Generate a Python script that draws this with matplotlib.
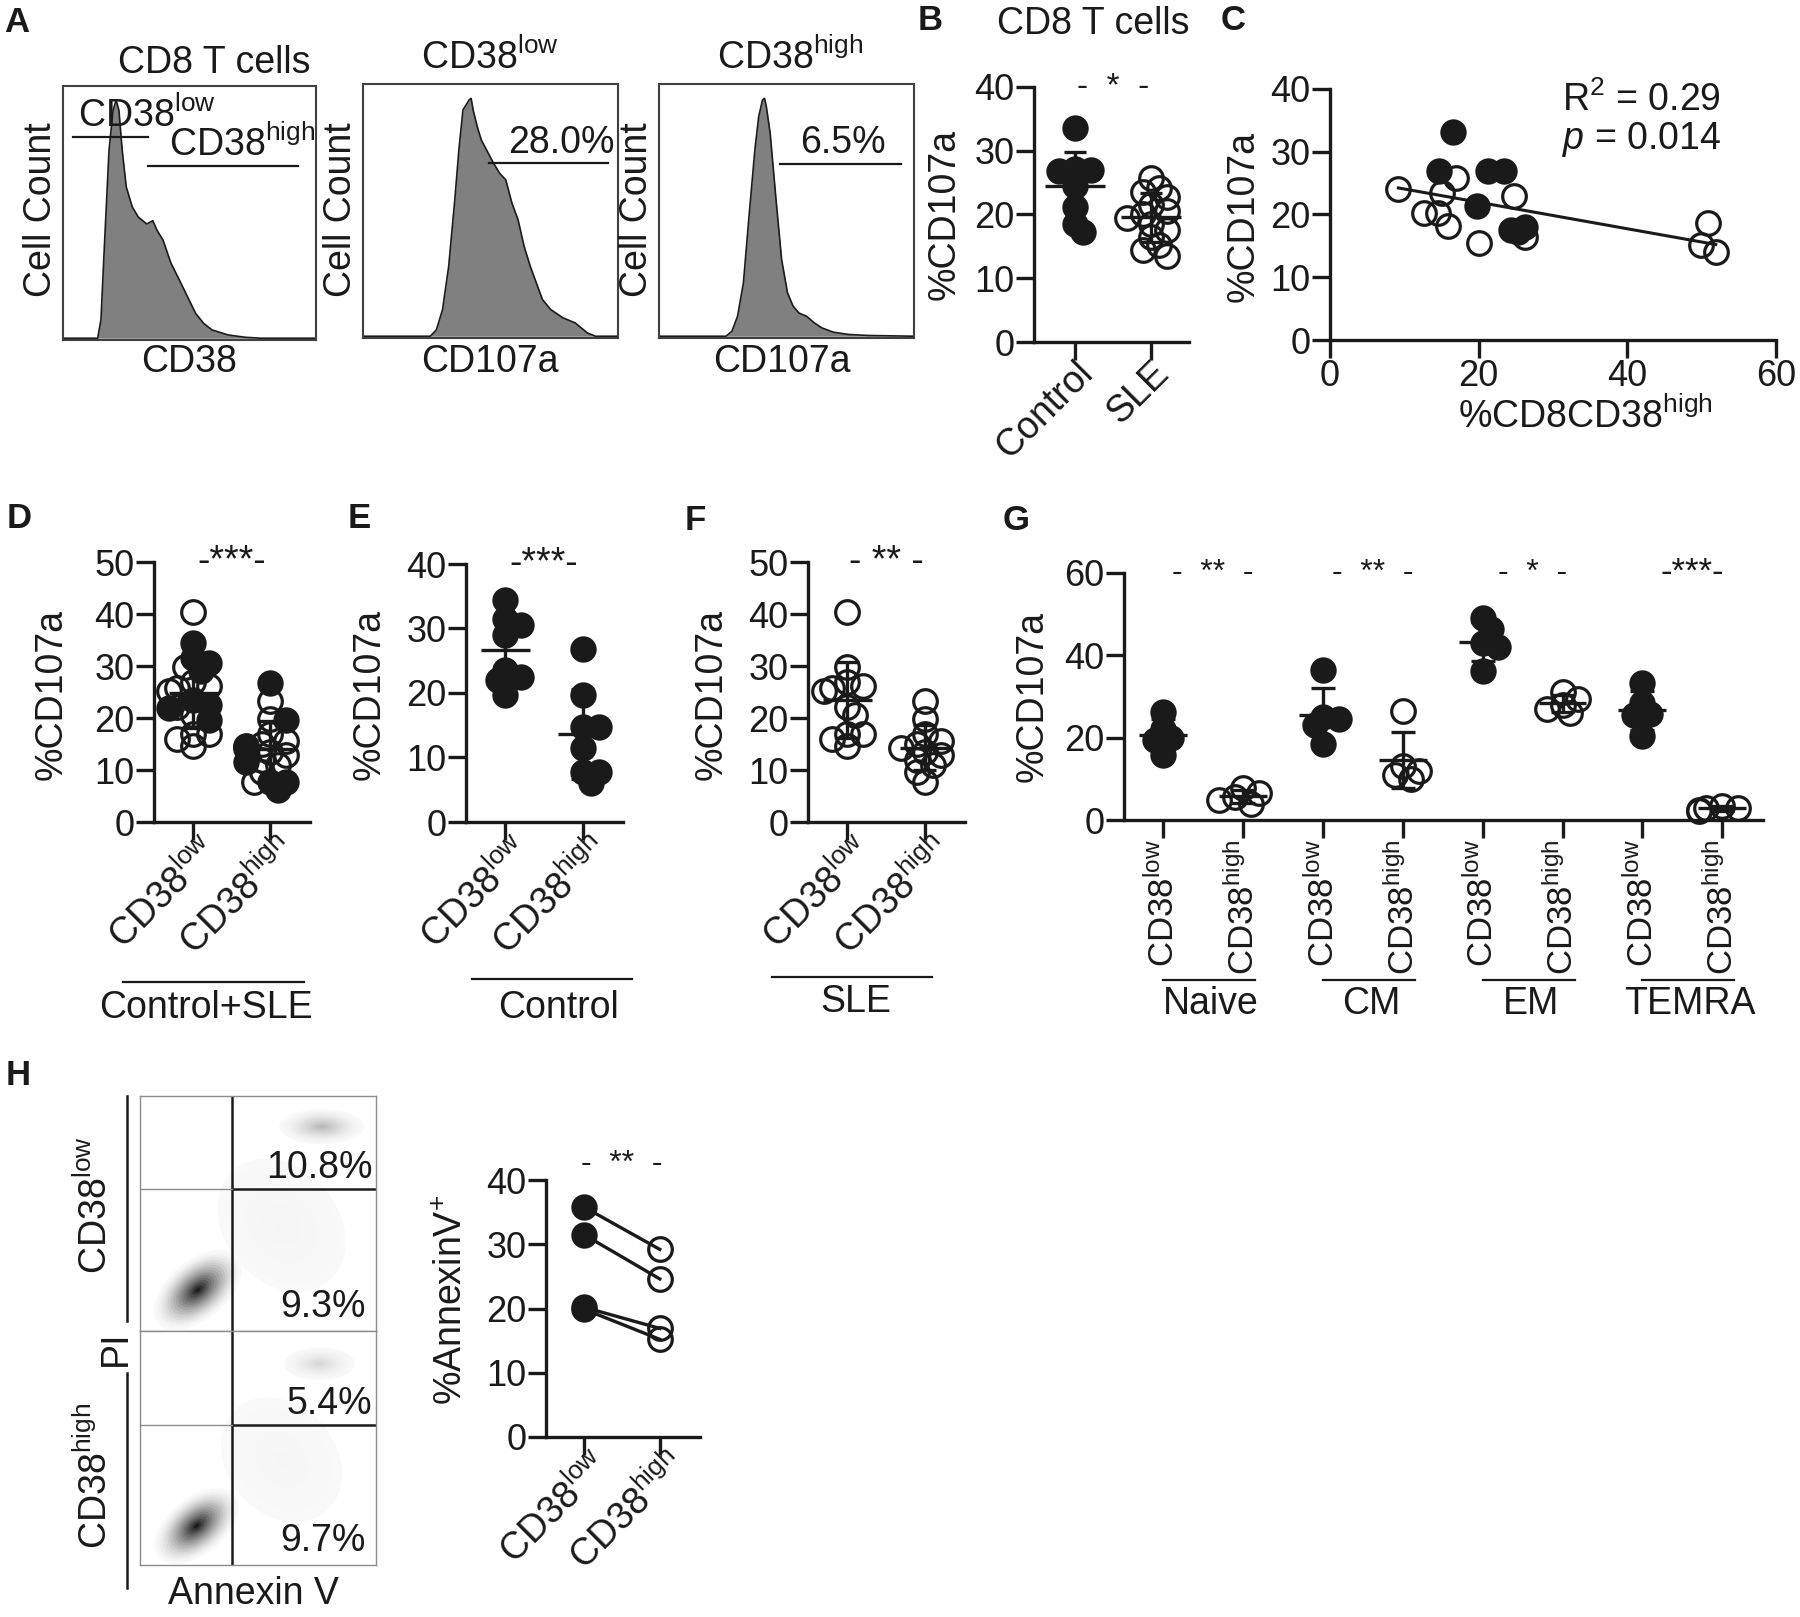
import numpy as np
import matplotlib
matplotlib.use("Agg")
import matplotlib.pyplot as plt
import matplotlib.transforms as mtransforms
from matplotlib.patches import Ellipse
from matplotlib.lines import Line2D

plt.rcParams['font.family'] = ['Liberation Sans', 'DejaVu Sans']
plt.rcParams['mathtext.fontset'] = 'custom'
plt.rcParams['mathtext.rm'] = 'Liberation Sans'
plt.rcParams['mathtext.it'] = 'Liberation Sans:italic'
plt.rcParams['mathtext.default'] = 'regular'

W, H = 1800, 1617
INK = '#1a1a1a'
LOW = 'CD38$^{low}$'
HIGH = 'CD38$^{high}$'
FS = 27     # labels
TFS = 26    # tick labels

# ---------------- data ----------------
# A: histogram outlines (channel 0-100, relative count)
cd38_x = [0, 13.7, 15.0, 16.6, 18.2, 19.8, 21.0, 22.1, 23.4, 25.0, 27.4, 29.8, 33.1, 35.5, 37.1,
          39.5, 42.7, 46.0, 49.2, 52.4, 55.6, 58.9, 65.3, 71.8, 78.2, 100]
cd38_y = [0, 0, 7.3, 41.6, 74.6, 90.4, 94.4, 90.4, 74.6, 60.0, 52.0, 48.0, 45.3, 46.6, 42.9,
          39.0, 29.7, 23.1, 16.5, 9.9, 5.9, 3.3, 1.3, 0.4, 0, 0]
cd107a_low_x = [0, 26.4, 28.8, 31.2, 33.6, 36.0, 37.6, 39.2, 40.8, 41.6, 42.4, 43.2, 44.8, 46.4, 48.8,
                51.2, 53.6, 56.0, 58.4, 60.8, 63.2, 65.6, 68.0, 70.4, 73.6, 78.4, 83.2, 88.0, 91.2, 100]
cd107a_low_y = [0, 0, 2.6, 10.6, 27.7, 54.1, 73.9, 89.7, 92.3, 93.7, 94.3, 89.7, 83.1, 77.8, 73.2,
                68.6, 64.6, 62.0, 52.8, 46.2, 35.6, 27.7, 21.1, 14.5, 10.6, 7.3, 5.3, 1.3, 0, 0]
cd107a_high_x = [0, 26.3, 28.6, 30.8, 33.1, 35.3, 37.6, 39.1, 40.6, 41.4, 42.1, 43.6, 45.9, 48.1,
                 50.4, 52.6, 54.9, 57.9, 60.9, 63.9, 68.4, 74.4, 82.0, 100]
cd107a_high_y = [0, 0, 2.0, 7.9, 21.1, 47.5, 73.9, 87.1, 93.7, 94.3, 91.0, 80.5, 54.1, 30.3,
                 17.2, 11.9, 9.2, 7.9, 5.3, 3.3, 1.6, 0.7, 0.3, 0]
pct_cd107a = ['28.0%', '6.5%']

# B: %CD107a in CD8 T cells
b_groups = ['Control', 'SLE']
b_control = [33.5, 27.2, 27.0, 26.8, 24.5, 21.2, 18.5, 17.2]
b_sle = [25.8, 24.2, 23.5, 22.8, 21.5, 20.5, 20.0, 19.5, 18.5, 17.5, 16.5, 15.2, 14.5, 13.5]

# C: %CD8CD38high vs %CD107a
c_ctrl_x = [16.5, 14.6, 21.2, 23.4, 19.8, 24.3, 26.2, 25.3]
c_ctrl_y = [33.1, 26.9, 26.9, 26.9, 21.4, 17.6, 18.0, 17.2]
c_sle_x = [9.2, 17.0, 15.1, 12.6, 14.5, 15.9, 20.1, 24.8, 26.2, 50.8, 49.9, 51.9]
c_sle_y = [24.0, 25.8, 23.4, 20.2, 20.2, 18.1, 15.4, 22.9, 16.4, 18.6, 15.2, 14.1]

# E (controls, filled) and F (SLE, open); D pools both
e_low = [34.4, 31.5, 30.5, 29.0, 23.5, 22.5, 22.0, 19.7]
e_high = [26.8, 19.7, 14.7, 14.7, 11.5, 7.7, 7.7, 6.1]
f_low = [40.4, 29.8, 27.0, 26.2, 25.8, 25.2, 22.2, 20.5, 16.9, 16.9, 15.9, 14.6]
f_high = [23.2, 19.9, 17.0, 15.6, 15.0, 14.2, 13.5, 12.9, 12.0, 11.0, 9.6, 7.6]

# G: subsets
g_subsets = ['Naive', 'CM', 'EM', 'TEMRA']
g_low = [[20.0, 26.2, 22.0, 15.8, 19.5],
         [36.5, 25.0, 24.5, 23.0, 18.5],
         [49.0, 46.4, 43.0, 42.0, 36.3],
         [33.4, 28.3, 25.8, 25.5, 20.4]]
g_high = [[7.8, 6.5, 5.5, 4.8, 4.0],
          [26.5, 13.0, 12.0, 11.0, 10.0],
          [31.0, 29.5, 28.0, 27.0, 26.0],
          [3.5, 3.0, 2.8, 2.5, 2.2]]
g_sig = ['-  **  -', '-  **  -', '-  *  -', '-***-']

# H: apoptosis
h_flow_pct = [['10.8%', '9.3%'], ['5.4%', '9.7%']]
h_low = [35.8, 31.5, 20.2, 19.9]
h_high = [29.2, 24.6, 16.9, 15.2]
# flow clusters: centre x, centre y, width, height, angle, darkest grey
flow_low_clusters = [(60, 45, 48, 62, 40, 0.96), (77, 87, 36, 15, 0, 0.72), (24.5, 17.5, 44, 25, 40, 0.12)]
flow_high_clusters = [(60, 45, 46, 58, 40, 0.965), (76, 86, 30, 14, 0, 0.84), (24.0, 16.7, 42, 24, 40, 0.12)]

# ---------------- helpers ----------------
fig = plt.figure(figsize=(W / 100, H / 100), dpi=100)
MS = 19
DIAM = MS * 100 / 72


def px_axes(x0, y0, x1, y1):
    return fig.add_axes([x0 / W, 1 - y1 / H, (x1 - x0) / W, (y1 - y0) / H])


def ftext(x, y, s, **kw):
    kw.setdefault('fontsize', FS)
    kw.setdefault('ha', 'center')
    kw.setdefault('va', 'center')
    return fig.text(x / W, 1 - y / H, s, color=INK, **kw)


def fline(x0, y0, x1, y1, lw=1.6, color=INK):
    fig.add_artist(Line2D([x0 / W, x1 / W], [1 - y0 / H, 1 - y1 / H], color=color, lw=lw))


def dot_axes(rect, ymax, ystep, xlim):
    ax = px_axes(*rect)
    ax.set_xlim(*xlim)
    ax.set_ylim(0, ymax)
    for s in ['top', 'right']:
        ax.spines[s].set_visible(False)
    for s in ['left', 'bottom']:
        ax.spines[s].set_linewidth(2.4)
        ax.spines[s].set_color(INK)
    ax.set_yticks(np.arange(0, ymax + 1, ystep))
    ax.tick_params(length=13, width=2.4, labelsize=TFS, pad=1, color=INK, labelcolor=INK)
    ax.patch.set_alpha(0)
    return ax


def swarm(ax, vals, pos):
    # spread points sideways in pixel space; they may overlap a good deal
    pts = []
    xs = np.zeros(len(vals))
    inv = ax.transData.inverted()
    for i in np.argsort(vals)[::-1]:
        cx, cy = ax.transData.transform((pos, vals[i]))
        px = cx
        for k in [0, 1, -1, 2, -2, 3, -3]:
            px = cx + k * DIAM * 0.3
            if all((px - qx) ** 2 + (cy - qy) ** 2 >= (DIAM * 0.42) ** 2 for qx, qy in pts):
                break
        pts.append((px, cy))
        xs[i] = inv.transform((px, cy))[0]
    return xs


def dots(ax, vals, xs, filled):
    if filled:
        ax.plot(xs, vals, 'o', color=INK, ms=MS, mew=0, zorder=2, clip_on=False)
    else:
        ax.plot(xs, vals, 'o', mfc='none', mec=INK, ms=MS - 2, mew=2.3, zorder=2, clip_on=False)


def mean_sd(ax, vals, pos, mw=0.32, cw=0.15):
    m, s = np.mean(vals), np.std(vals, ddof=1)
    kw = dict(color=INK, lw=2.4, zorder=3, clip_on=False, solid_capstyle='butt')
    ax.plot([pos - mw, pos + mw], [m, m], **kw)
    ax.plot([pos, pos], [max(m - s, 0), m + s], **kw)
    ax.plot([pos - cw, pos + cw], [m + s, m + s], **kw)
    if m - s > 0:
        ax.plot([pos - cw, pos + cw], [m - s, m - s], **kw)


def group(ax, filled_vals, open_vals, pos, mw=0.32):
    allv = list(filled_vals) + list(open_vals)
    xs = swarm(ax, allv, pos)
    nf = len(filled_vals)
    if nf:
        dots(ax, allv[:nf], xs[:nf], True)
    if len(open_vals):
        dots(ax, allv[nf:], xs[nf:], False)
    mean_sd(ax, allv, pos, mw=mw)


def rot_labels(ax, labels, dx=20, dy=-4):
    ax.set_xticks(range(len(labels)))
    ax.set_xticklabels(labels, rotation=45, ha='right', va='center', rotation_mode='anchor', fontsize=FS)
    shift = mtransforms.ScaledTranslation(dx / 100, dy / 100, fig.dpi_scale_trans)
    for lab in ax.get_xticklabels():
        lab.set_transform(lab.get_transform() + shift)


def sig(ax, x, y, s, fs=24):
    ax.text(x, y, s, ha='center', va='center', fontsize=fs, color=INK, clip_on=False)


# ---------------- A: histograms ----------------
def hist_axes(rect, xs, ys):
    ax = px_axes(*rect)
    ax.fill_between(xs, ys, 0, color='#808080', lw=0)
    ax.plot(xs, ys, color=INK, lw=1.2)
    ax.set_xlim(0, 100)
    ax.set_ylim(-0.7, 100)
    ax.set_xticks([])
    ax.set_yticks([])
    for s in ax.spines.values():
        s.set_linewidth(1.5)
        s.set_color('0.25')
    return ax


a1 = hist_axes((63, 86, 316, 340), cd38_x, cd38_y)
a1.plot([4, 33.4], [79.7, 79.7], color=INK, lw=1.6)
a1.plot([33.4, 92.7], [68.3, 68.3], color=INK, lw=1.6)
a1.text(6, 80.5, LOW, fontsize=FS, va='bottom', ha='left', color=INK, clip_on=False)
a1.text(42, 69, HIGH, fontsize=FS, va='bottom', ha='left', color=INK, clip_on=False)
a2 = hist_axes((363, 84, 618, 338), cd107a_low_x, cd107a_low_y)
a2.plot([49.6, 96], [68.6, 68.6], color=INK, lw=1.6)
a2.text(98.5, 69.5, pct_cd107a[0], fontsize=27, va='bottom', ha='right', color=INK)
a3 = hist_axes((659, 84, 914, 338), cd107a_high_x, cd107a_high_y)
a3.plot([47.4, 95], [68.2, 68.2], color=INK, lw=1.6)
a3.text(72, 69.5, pct_cd107a[1], fontsize=27, va='bottom', ha='center', color=INK)

ftext(214, 63, 'CD8 T cells')
ftext(490, 58, LOW)
ftext(790, 58, HIGH)
for x in (41, 341, 637):
    ftext(x, 210, 'Cell Count', rotation=90)
ftext(189, 362, 'CD38')
ftext(490, 362, 'CD107a')
ftext(782, 362, 'CD107a')

# ---------------- B ----------------
axb = dot_axes((1034, 87, 1189, 342), 40, 10, (-0.54, 1.5))
group(axb, b_control, [], 0, mw=0.4)
group(axb, [], b_sle, 1, mw=0.4)
rot_labels(axb, b_groups, dx=12, dy=-6)
sig(axb, 0.5, 40, '-  *  -')
ftext(1093, 24, 'CD8 T cells')
ftext(945, 214, '%CD107a', rotation=90)

# ---------------- C ----------------
axc = dot_axes((1330, 89, 1776, 340), 40, 10, (0, 60))
axc.set_xticks([0, 20, 40, 60])
dots(axc, c_sle_y, c_sle_x, False)
dots(axc, c_ctrl_y, c_ctrl_x, True)
cx_all = np.array(c_ctrl_x + c_sle_x)
cy_all = np.array(c_ctrl_y + c_sle_y)
slope, icpt = np.polyfit(cx_all, cy_all, 1)
xx = np.array([cx_all.min(), cx_all.max()])
axc.plot(xx, slope * xx + icpt, color=INK, lw=2.2, zorder=3)
axc.text(0.52, 0.955, 'R$^2$ = 0.29', transform=axc.transAxes, fontsize=FS, va='center', ha='left', color=INK)
axc.text(0.52, 0.80, '$\\it{p}$ = 0.014', transform=axc.transAxes, fontsize=FS, va='center', ha='left', color=INK)
ftext(1244, 216, '%CD107a', rotation=90)
ftext(1585, 417, '%CD8CD38$^{high}$')

# ---------------- D, E, F ----------------
axd = dot_axes((154, 562, 310, 822), 50, 10, (-0.51, 1.52))
group(axd, e_low, f_low, 0)
group(axd, e_high, f_high, 1)
rot_labels(axd, [LOW, HIGH])
sig(axd, 0.5, 50, '-***-', fs=27)

axe = dot_axes((466, 564, 623, 822), 40, 10, (-0.51, 1.52))
group(axe, e_low, [], 0)
group(axe, e_high, [], 1)
rot_labels(axe, [LOW, HIGH])
sig(axe, 0.5, 40, '-***-', fs=27)

axf = dot_axes((808, 562, 965, 822), 50, 10, (-0.51, 1.52))
group(axf, [], f_low, 0)
group(axf, [], f_high, 1)
rot_labels(axf, [LOW, HIGH])
sig(axf, 0.5, 50, '- ** -', fs=27)

for x in (52, 370, 712):
    ftext(x, 694, '%CD107a', rotation=90)
fline(123, 982, 304, 982)
ftext(206, 1008, 'Control+SLE')
fline(472, 979, 632, 979)
ftext(558, 1008, 'Control')
fline(772, 977, 932, 977)
ftext(856, 1002, 'SLE')

# ---------------- G ----------------
axg = dot_axes((1124, 573, 1763, 820), 60, 20, (-0.49, 7.51))
for i in range(len(g_subsets)):
    group(axg, g_low[i], [], 2 * i, mw=0.3)
    group(axg, [], g_high[i], 2 * i + 1, mw=0.3)
    sig(axg, 2 * i + 0.62, 60, g_sig[i], fs=25 if i == 3 else 23)
axg.set_xticks(range(8))
axg.set_xticklabels([LOW, HIGH] * 4, rotation=90, ha='center', va='top', fontsize=25)
ftext(1033, 696, '%CD107a', rotation=90)
for i, name in enumerate(g_subsets):
    x0 = axg.transData.transform((2 * i, 0))[0]
    x1 = axg.transData.transform((2 * i + 1, 0))[0]
    fline(x0, 980, x1 + 12, 980)
    ftext((x0 + x1) / 2 + 8, 1004, name)

# ---------------- H: flow plots ----------------
def flow_axes(rect, clusters, gate_y, pcts):
    ax = px_axes(*rect)
    ax.set_xlim(0, 100)
    ax.set_ylim(0, 100)
    ax.set_xticks([])
    ax.set_yticks([])
    for s in ax.spines.values():
        s.set_linewidth(1.0)
        s.set_color('0.55')
    n = 16
    for (cx, cy, w, h, ang, dark) in clusters:
        for k in range(n):
            f = 1 - k / n
            g = 0.975 + (dark - 0.975) * (k / (n - 1)) ** 1.5
            ax.add_patch(Ellipse((cx, cy), w * f, h * f, angle=ang, fc=str(g), ec='none'))
    ax.axvline(39, color=INK, lw=1.8)
    ax.axhline(gate_y, color=INK, lw=1.8, xmin=0.39)
    ax.plot([0, 39], [gate_y, gate_y], color='0.55', lw=1.0)
    ax.text(98.5, gate_y + 1.5, pcts[0], ha='right', va='bottom', fontsize=27, color=INK)
    ax.text(95.5, 2.5, pcts[1], ha='right', va='bottom', fontsize=27, color=INK)
    return ax


flow_axes((140, 1096, 376, 1331), flow_low_clusters, 60.4, h_flow_pct[0])
flow_axes((140, 1331, 376, 1565), flow_high_clusters, 59.8, h_flow_pct[1])
fline(127, 1096, 127, 1321, lw=1.8)
fline(127, 1373, 127, 1588, lw=1.8)
ftext(96, 1205, LOW, rotation=90)
ftext(116, 1348, 'PI', rotation=90)
ftext(96, 1476, HIGH, rotation=90)
ftext(253, 1594, 'Annexin V')

axh = dot_axes((546, 1180, 700, 1437), 40, 10, (-0.5, 1.53))
for lo, hi in zip(h_low, h_high):
    axh.plot([0, 1], [lo, hi], color=INK, lw=2.4, zorder=1)
dots(axh, h_low, np.zeros(len(h_low)), True)
dots(axh, h_high, np.ones(len(h_high)), False)
rot_labels(axh, [LOW, HIGH])
sig(axh, 0.5, 42.5, '-  **  -', fs=23)
ftext(452, 1300, '%AnnexinV$^{+}$', rotation=90)

# ---------------- panel letters ----------------
for letter, x, y in [('A', 17, 23), ('B', 930, 20), ('C', 1233, 20), ('D', 19, 519),
                     ('E', 359, 519), ('F', 695, 521), ('G', 1016, 521), ('H', 18, 1075)]:
    ftext(x, y, letter, fontsize=25, fontweight='bold')

fig.savefig('out.png', dpi=100, facecolor='white')
